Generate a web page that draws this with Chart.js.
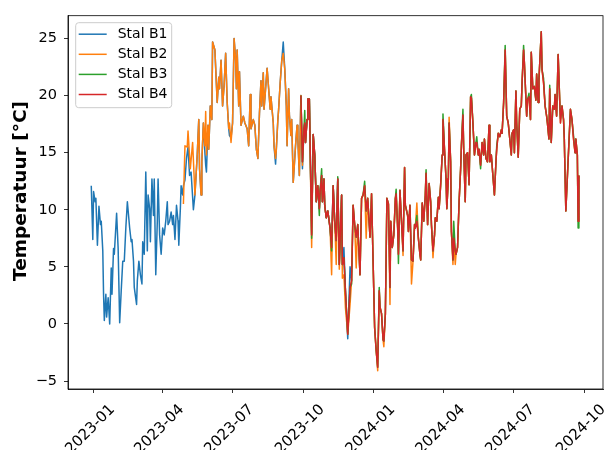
<!DOCTYPE html>
<html>
<head>
<meta charset="utf-8">
<script src="https://cdn.jsdelivr.net/npm/chart.js@4.4.1/dist/chart.umd.min.js"></script>
<style>
  html, body { margin: 0; padding: 0; background: #fff; }
  canvas { display: block; }
</style>
</head>
<body>
<canvas id="chart" width="604" height="450"></canvas>
<script>
// ================= DATA =================
// x values are days counted from START_DATE
const START_DATE = "2023-01-01";
const seriesNames = ["Stal B1", "Stal B2", "Stal B3", "Stal B4"];
const seriesColors = ["#1f77b4", "#ff7f0e", "#2ca02c", "#d62728"];
const xTickLabels = ["2023-01", "2023-04", "2023-07", "2023-10", "2024-01", "2024-04", "2024-07", "2024-10"];
const yTickValues = [-5, 0, 5, 10, 15, 20, 25];
const yLabel = "Temperatuur [°C]";

const b1Days = [
  -3,-1,0,2,3,5,7,9,10,12, 13,14,16,17,19,21,23,24,26,27,
  30,32,34,36,38,40,42,44,47,49, 50,52,53,56,57,59,61,63,64,66,
  68,70,71,73,74,76,78,79,81,83, 84,86,88,90,92,94,96,97,99,101,
  103,104,106,108,110,111,113,114,116,117,
  119,121,123,125,127,130,132,135,137,138, 140,141,143,145,146,147,149,150,152,154,
  155,158,161,163,164,166,168,170,172,174, 176,177,179,181,183,185,186,187,189,190,
  192,195,197,200,202,204,205,208,210,212, 214,216,218,219,221,222,224,226,228,230,
  231,234,235,237,238,240,241,243,245,247, 249,251,252,254,255,257,258,260,263,265,
  266,268,
  270,272,274,275,276,278,279,281,284,286, 288,290,292,294,295,297,298,300,301,303,
  305,308,310,312,314,316,318,320,323,324, 326,328,331,334,336
];
const b1Temps = [
  12.1,7.4,11.6,10.7,11.0,6.9,10.3,8.7,9.0,6.4, 2.6,0.3,2.6,0.6,2.3,0.0,4.9,2.6,6.6,6.1,
  9.7,6.6,0.1,2.9,5.5,5.5,8.4,10.7,8.4,7.2, 7.4,5.5,3.2,1.7,3.8,5.5,4.3,3.5,7.2,6.1,
  13.3,6.4,11.3,10.1,7.2,12.7,9.5,12.7,4.3,9.0, 12.7,7.8,6.1,8.4,7.8,9.0,10.7,8.7,9.0,9.8,
  8.7,9.5,7.4,10.4,9.0,6.9,10.1,12.1,11.3,12.1,
  12.6,14.5,15.5,13.0,13.3,10.0,11.3,14.8,17.9,13.6, 11.3,14.2,17.6,15.0,13.9,13.3,17.4,15.3,19.1,17.9,
  24.7,24.0,19.4,21.6,20.6,23.1,19.1,20.9,23.7,19.4, 17.1,16.5,16.3,17.6,25.0,23.1,20.6,24.0,19.1,22.1,
  17.4,18.2,17.6,17.1,15.6,20.1,17.1,17.9,17.4,15.3, 14.5,18.4,21.3,19.1,22.0,18.8,20.6,22.4,20.6,18.8,
  19.9,17.6,15.6,14.0,15.3,17.9,18.8,21.1,23.0,24.7, 22.3,19.1,15.6,20.6,18.3,16.5,17.9,12.4,15.6,17.4,
  16.2,13.0,
  20.0,13.6,17.1,17.6,15.9,17.9,19.7,19.7,7.8,16.6, 14.8,10.7,12.1,10.1,11.6,13.0,10.7,12.7,10.4,9.3,
  9.9,8.4,6.7,12.1,9.0,7.3,12.7,5.2,11.3,5.2, 6.7,2.9,-1.3,5.0,3.8
];

const b2EarlyDays = [
  117,119,122,123,126,129,132,135,137,138, 140,141,143,145,146,147,149,150,152,154,
  155,158,161,163,164,166,168,170,172,174, 176,177,179,181,183,185,186,187,189,190,
  192,195,197,200,202,204,205,208,210,212, 214,216,218,219,221,222,224,226,228,230,
  231,234,235,237,238,240,241,243,245,247, 249,251,252,254,255,257,258,260,263,265,
  266,268
];
const b2EarlyTemps = [
  10.5,15.6,15.5,16.9,13.6,15.9,11.3,14.8,17.9,13.6, 11.3,14.2,17.6,15.6,18.6,14.8,17.4,15.3,19.1,17.9,
  24.7,24.0,19.4,21.6,20.6,23.1,19.1,20.9,23.7,19.4, 17.1,17.6,15.9,17.6,25.0,23.1,20.6,24.0,19.1,22.1,
  17.4,18.2,17.6,17.1,15.6,20.1,17.1,17.9,17.4,15.3, 14.5,18.4,21.3,19.1,22.0,18.8,20.6,22.4,20.6,18.8,
  19.9,17.6,15.6,14.5,15.3,17.9,18.8,21.1,23.0,23.7, 22.3,19.1,15.6,20.6,18.3,16.5,17.9,12.4,15.6,17.4,
  16.2,13.0
];

// shared day grid for B2 (second part), B3 and B4
const lateDays = [
  270,272,274,275,276,278,279,281,284,286, 288,290,292,294,295,297,298,300,301,303,
  305,308,310,312,314,316,318,320,323,324, 326,328,331,334,336,338,340,342,344,347,
  349,351,353,355,357,360,362,364,366,368, 370,372,373,375,377,378,380,382,384,386,
  387,389,391,393,394,396,397,399,401,403, 405,406,409,410,412,414,416,418,419,421,
  423,425,426,428,430,432,433,435,437,439, 440,442,444,445,447,449,450,452,454,455,
  457,459,460,462,463,465,466,468,469,471, 472,474,476,478,479,481,482,484,485,487,
  489,491,492,494,496,498,499,501,502,504, 506,508,509,511,513,515,516,518,520,522,
  524,525,527,529,531,532,534,536,538,540, 542,544,545,547,548,550,551,553,555,557,
  558,560,561,564,565,567,569,570,572,574, 576,577,579,580,583,584,586,588,590,591,
  593,594,596,598,600,601,603,605,607,608, 610,612,613,615,621,623,625,627,628,630,
  631,632
];
const b2LateTemps = [
  20.0,13.9,17.1,17.6,15.9,17.9,19.7,19.7,6.7,16.6, 14.8,10.7,12.1,10.1,11.6,13.0,10.7,12.7,10.4,9.3,
  9.9,8.4,4.3,12.1,9.0,5.2,12.7,4.8,11.3,4.0, 4.3,1.4,-0.9,1.7,3.8,10.4,8.7,4.9,8.7,4.3,
  11.0,11.3,12.1,7.5,11.0,7.6,11.4,5.5,-0.3,-2.3, -4.1,2.9,1.5,0.9,-1.4,-2.0,0.9,11.0,10.5,1.7,
  9.0,6.7,7.8,11.0,11.4,8.4,6.1,11.7,9.0,6.0, 13.7,10.4,9.5,8.1,10.4,3.5,5.5,8.7,8.4,10.6,
  7.5,6.1,5.6,10.6,9.0,11.3,13.2,8.7,12.3,10.7, 8.7,5.8,7.8,9.3,9.0,11.1,10.1,12.2,14.8,17.9,
  15.3,12.7,10.1,12.7,18.1,14.2,8.1,5.2,7.5,5.2, 6.1,6.7,10.7,13.6,15.6,18.3,15.3,10.7,14.8,15.0,
  12.2,19.9,19.8,17.6,14.8,15.9,15.9,14.8,15.3,13.9, 15.9,14.8,16.2,14.5,14.2,17.4,14.2,14.8,13.0,11.3,
  14.2,15.3,16.7,16.4,17.0,16.7,19.4,24.0,18.2,17.6, 16.2,14.8,16.7,17.0,15.0,20.4,17.6,14.6,18.8,19.1,
  21.1,24.0,22.9,18.2,19.6,19.9,17.9,23.8,20.6,20.8, 19.6,21.9,19.4,21.4,25.6,22.3,21.1,19.1,18.2,17.6,
  16.2,20.6,15.9,19.1,18.8,20.1,18.2,23.6,19.6,17.6, 19.1,17.9,16.2,9.9,18.8,17.9,16.2,15.0,16.2,14.8,
  9.0,13.0
];
const b3Temps = [
  20.0,14.2,17.1,18.7,15.9,17.9,19.7,19.7,7.5,16.6, 14.8,10.7,12.1,9.5,11.6,13.6,10.7,12.7,10.4,9.3,
  9.9,8.4,6.4,12.1,9.0,7.3,12.9,5.2,11.3,5.2, 5.8,2.9,-0.9,3.2,3.5,10.4,8.7,7.6,8.7,4.3,
  11.0,11.3,12.5,9.9,11.0,7.6,11.4,5.5,-0.3,-2.3, -3.8,3.2,1.5,0.9,-1.4,-1.5,0.9,11.0,10.5,3.2,
  9.0,6.7,7.8,11.0,11.8,8.4,5.3,11.7,9.0,6.4, 13.7,10.4,9.5,8.1,10.4,5.6,5.5,8.7,8.4,9.5,
  7.5,6.1,5.6,10.6,9.0,11.3,13.5,8.7,12.3,10.7, 8.7,6.4,7.8,9.3,9.0,11.1,10.1,12.2,14.8,18.4,
  15.3,12.7,10.1,12.7,17.6,14.2,8.1,5.6,9.0,6.4, 6.1,6.7,10.7,13.6,15.6,18.8,15.3,10.7,14.8,15.0,
  12.2,19.9,20.1,17.6,14.8,15.9,16.4,14.8,15.3,13.6, 15.9,14.8,16.2,14.5,14.2,17.4,14.2,14.8,13.0,11.3,
  14.2,15.6,16.7,16.4,17.0,16.7,19.4,24.4,18.2,17.6, 16.2,14.8,16.7,17.0,15.0,20.4,17.6,14.6,18.8,19.1,
  21.1,24.4,22.9,18.2,19.6,20.2,17.9,23.8,20.6,20.8, 19.6,21.9,19.4,21.4,25.6,22.3,21.5,19.1,18.2,17.6,
  16.2,20.9,15.9,19.1,18.8,20.1,18.2,23.6,19.6,18.0, 19.1,17.9,16.2,9.9,18.8,17.9,16.5,15.0,16.2,14.8,
  8.4,13.0
];
const b4Temps = [
  20.0,14.2,17.1,17.6,15.9,17.9,19.7,19.7,7.8,16.6, 14.8,10.7,12.1,10.1,11.6,13.0,10.7,12.7,10.4,9.3,
  9.9,8.4,6.7,12.1,9.0,7.3,12.7,5.2,11.3,5.2, 5.8,2.9,-0.9,3.2,3.8,10.4,8.7,7.6,8.7,4.3,
  11.0,11.3,12.1,9.9,11.0,7.6,11.4,5.5,-0.3,-2.3, -3.8,2.9,1.5,0.9,-1.4,-1.5,0.9,11.0,10.5,3.2,
  9.0,6.7,7.8,11.0,11.4,8.4,6.1,11.7,9.0,6.4, 13.7,10.4,9.5,8.1,10.4,5.6,5.5,8.7,8.4,9.0,
  7.5,6.1,5.6,10.6,9.0,11.3,13.2,8.7,12.3,10.7, 8.7,6.4,7.8,9.3,9.0,11.1,10.1,12.2,14.8,17.9,
  15.3,12.7,10.1,12.7,17.6,14.2,8.1,5.6,7.5,6.4, 6.1,6.7,10.7,13.6,15.6,18.3,15.3,10.7,14.8,15.0,
  12.2,19.9,19.8,17.6,14.8,15.9,15.9,14.8,15.3,13.9, 15.9,14.8,16.2,14.5,14.2,17.4,14.2,14.8,13.0,11.3,
  14.2,15.3,16.7,16.4,17.0,16.7,19.4,24.0,18.2,17.6, 16.2,14.8,16.7,17.0,15.0,20.4,17.6,14.6,18.8,19.1,
  21.1,24.0,22.9,18.2,19.6,19.9,17.9,23.8,20.6,20.8, 19.6,21.9,19.4,21.4,25.6,22.3,21.1,19.1,18.2,17.6,
  16.2,20.6,15.9,19.1,18.8,20.1,18.2,23.6,19.6,17.6, 19.1,17.9,16.2,9.9,18.8,17.9,16.2,15.0,16.2,14.8,
  9.0,13.0
];

// axis limits (days / degrees)
const X_MIN = -33.3, X_MAX = 663.4;
const Y_MIN = -5.7, Y_MAX = 27.0;

// ================= HELPERS =================
const DAY_MS = 86400000;
const startMs = Date.parse(START_DATE + "T00:00:00Z");
const labelToDay = lbl => (Date.parse(lbl + "-01T00:00:00Z") - startMs) / DAY_MS;
const xTickDays = xTickLabels.map(labelToDay);

const toPoints = (days, temps) => days.map((d, i) => ({ x: d, y: temps[i] }));

const seriesPoints = [
  toPoints(b1Days, b1Temps),
  toPoints(b2EarlyDays.concat(lateDays), b2EarlyTemps.concat(b2LateTemps)),
  toPoints(lateDays, b3Temps),
  toPoints(lateDays, b4Temps)
];

const FONT = '"DejaVu Sans", "Liberation Sans", sans-serif';

// ================= PLUGINS =================
// full box around the axes (matplotlib spines)
const axesFrame = {
  id: "axesFrame",
  afterDatasetsDraw(chart) {
    const { ctx, chartArea: a } = chart;
    ctx.save();
    ctx.strokeStyle = "#000";
    ctx.lineWidth = 0.8;
    ctx.strokeRect(a.left, a.top, a.right - a.left, a.bottom - a.top);
    ctx.restore();
  }
};

// legend box in the upper left corner of the plot
const boxLegend = {
  id: "boxLegend",
  afterDraw(chart) {
    const { ctx, chartArea: a } = chart;
    const x0 = a.left + 7.7, y0 = a.top + 7;
    ctx.save();
    ctx.beginPath();
    ctx.roundRect(x0, y0, 96, 85, 3);
    ctx.fillStyle = "rgba(255,255,255,0.8)";
    ctx.fill();
    ctx.strokeStyle = "#cccccc";
    ctx.lineWidth = 1;
    ctx.stroke();
    ctx.font = "14px " + FONT;
    ctx.textBaseline = "middle";
    ctx.textAlign = "left";
    seriesNames.forEach((name, i) => {
      const y = y0 + 11.5 + i * 20.1;
      ctx.strokeStyle = seriesColors[i];
      ctx.lineWidth = 1.5;
      ctx.beginPath();
      ctx.moveTo(x0 + 3, y);
      ctx.lineTo(x0 + 31, y);
      ctx.stroke();
      ctx.fillStyle = "#000";
      ctx.fillText(name, x0 + 42, y);
    });
    ctx.restore();
  }
};

// rotated y axis label
const yTitle = {
  id: "yTitle",
  afterDraw(chart) {
    const { ctx } = chart;
    ctx.save();
    ctx.translate(20.8, 191);
    ctx.rotate(-Math.PI / 2);
    ctx.font = "bold 18.5px " + FONT;
    ctx.fillStyle = "#000";
    ctx.textAlign = "center";
    ctx.textBaseline = "middle";
    ctx.fillText(yLabel, 0, 0);
    ctx.restore();
  }
};

// ================= CHART =================
const datasets = seriesNames.map((name, i) => ({
  label: name,
  data: seriesPoints[i],
  borderColor: seriesColors[i],
  backgroundColor: seriesColors[i],
  borderWidth: 1.5,
  borderJoinStyle: "round",
  pointRadius: 0,
  tension: 0,
  fill: false,
  order: seriesNames.length - i
}));

new Chart(document.getElementById("chart"), {
  type: "line",
  data: { datasets },
  options: {
    responsive: false,
    animation: false,
    layout: { padding: { top: 12, right: 1, left: 0, bottom: 0 } },
    plugins: { legend: { display: false }, tooltip: { enabled: false } },
    scales: {
      x: {
        type: "linear",
        min: X_MIN,
        max: X_MAX,
        afterBuildTicks: s => { s.ticks = xTickDays.map(v => ({ value: v })); },
        afterFit: s => { s.height = 61; s.paddingLeft = 0; s.paddingRight = 0; },
        ticks: {
          autoSkip: false,
          minRotation: 45,
          maxRotation: 45,
          labelOffset: 19,
          padding: 8,
          color: "#000",
          font: { family: FONT, size: 15 },
          callback: (v, i) => xTickLabels[i]
        },
        grid: { drawOnChartArea: false, color: "#000", tickLength: 4, tickWidth: 0.8 },
        border: { color: "#000", width: 0.8 }
      },
      y: {
        min: Y_MIN,
        max: Y_MAX,
        afterBuildTicks: s => { s.ticks = yTickValues.map(v => ({ value: v })); },
        afterFit: s => { s.width = 68; },
        ticks: {
          padding: 7,
          color: "#000",
          font: { family: FONT, size: 14.5 },
          callback: v => (v < 0 ? "\u2212" + Math.abs(v) : String(v))
        },
        grid: { drawOnChartArea: false, color: "#000", tickLength: 4, tickWidth: 0.8 },
        border: { color: "#000", width: 0.8 }
      }
    }
  },
  plugins: [axesFrame, boxLegend, yTitle]
});
</script>
</body>
</html>
